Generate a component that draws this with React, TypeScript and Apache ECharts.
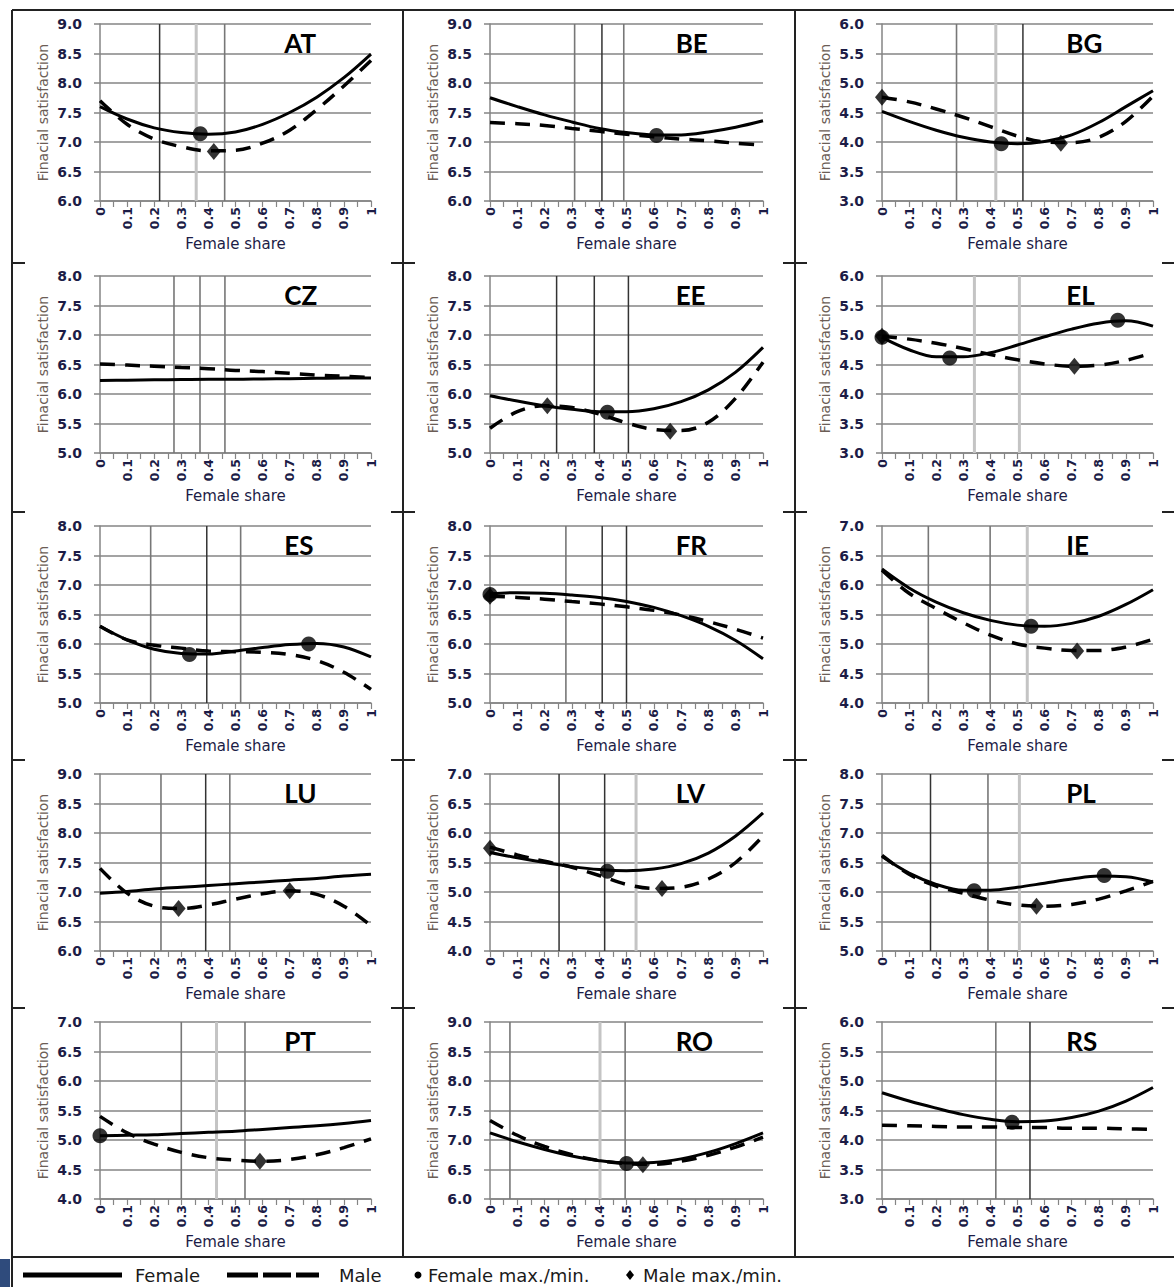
import React, { useEffect, useRef } from "react";
import * as echarts from "echarts";

// ---------------- DATA ----------------
const countries = ["AT", "BE", "BG", "CZ", "EE", "EL", "ES", "FR", "IE", "LU", "LV", "PL", "PT", "RO", "RS"];
const shares = [0, 0.1, 0.2, 0.3, 0.4, 0.5, 0.6, 0.7, 0.8, 0.9, 1];
const xTickLabels = ["0", "0.1", "0.2", "0.3", "0.4", "0.5", "0.6", "0.7", "0.8", "0.9", "1"];
const yMins = [6, 6, 3, 5, 5, 3, 5, 5, 4, 6, 4, 5, 4, 6, 3];
const yMaxs = [9, 9, 6, 8, 8, 6, 8, 8, 7, 9, 7, 8, 7, 9, 6];

const femaleAT = [7.6, 7.39, 7.24, 7.16, 7.13, 7.17, 7.3, 7.5, 7.76, 8.09, 8.49];
const femaleBE = [7.75, 7.6, 7.46, 7.34, 7.23, 7.16, 7.12, 7.12, 7.17, 7.25, 7.36];
const femaleBG = [4.52, 4.35, 4.2, 4.08, 4.0, 3.97, 4.01, 4.12, 4.33, 4.6, 4.87];
const femaleCZ = [6.23, 6.235, 6.24, 6.245, 6.25, 6.25, 6.255, 6.26, 6.265, 6.27, 6.27];
const femaleEE = [5.97, 5.88, 5.8, 5.74, 5.7, 5.7, 5.75, 5.87, 6.07, 6.37, 6.79];
const femaleEL = [4.96, 4.75, 4.63, 4.63, 4.7, 4.83, 4.97, 5.1, 5.2, 5.24, 5.15];
const femaleES = [6.3, 6.07, 5.91, 5.84, 5.83, 5.88, 5.94, 5.99, 6.01, 5.95, 5.78];
const femaleFR = [6.85, 6.87, 6.86, 6.83, 6.79, 6.72, 6.62, 6.48, 6.3, 6.06, 5.75];
const femaleIE = [6.27, 5.95, 5.71, 5.53, 5.4, 5.32, 5.3, 5.35, 5.47, 5.67, 5.92];
const femaleLU = [6.98, 7.01, 7.05, 7.08, 7.11, 7.14, 7.17, 7.2, 7.23, 7.27, 7.3];
const femaleLV = [5.67, 5.58, 5.5, 5.43, 5.38, 5.36, 5.39, 5.48, 5.66, 5.95, 6.34];
const femalePL = [6.6, 6.32, 6.13, 6.03, 6.03, 6.08, 6.15, 6.22, 6.27, 6.26, 6.17];
const femalePT = [5.07, 5.08, 5.09, 5.11, 5.13, 5.15, 5.18, 5.21, 5.24, 5.28, 5.33];
const femaleRO = [7.12, 6.97, 6.84, 6.73, 6.65, 6.61, 6.62, 6.68, 6.79, 6.94, 7.12];
const femaleRS = [4.8, 4.66, 4.54, 4.43, 4.35, 4.31, 4.32, 4.38, 4.49, 4.66, 4.89];

const maleAT = [7.7, 7.3, 7.05, 6.92, 6.85, 6.86, 6.98, 7.2, 7.55, 7.95, 8.38];
const maleBE = [7.33, 7.31, 7.28, 7.23, 7.18, 7.13, 7.09, 7.05, 7.02, 6.98, 6.95];
const maleBG = [4.76, 4.68, 4.56, 4.42, 4.26, 4.1, 4.0, 3.99, 4.08, 4.35, 4.78];
const maleCZ = [6.51, 6.49, 6.47, 6.45, 6.43, 6.4, 6.38, 6.35, 6.32, 6.3, 6.28];
const maleEE = [5.42, 5.7, 5.8, 5.77, 5.66, 5.51, 5.4, 5.38, 5.52, 5.93, 6.54];
const maleEL = [4.98, 4.93, 4.86, 4.77, 4.67, 4.58, 4.51, 4.47, 4.49, 4.57, 4.7];
const maleES = [6.3, 6.07, 5.98, 5.93, 5.88, 5.87, 5.86, 5.82, 5.72, 5.52, 5.23];
const maleFR = [6.81, 6.79, 6.76, 6.72, 6.68, 6.63, 6.57, 6.49, 6.38, 6.25, 6.1];
const maleIE = [6.25, 5.86, 5.6, 5.36, 5.15, 5.0, 4.93, 4.89, 4.89, 4.95, 5.08];
const maleLU = [7.4, 6.98, 6.76, 6.72, 6.78, 6.88, 6.97, 7.02, 6.96, 6.76, 6.43];
const maleLV = [5.76, 5.63, 5.52, 5.42, 5.28, 5.13, 5.06, 5.08, 5.22, 5.5, 5.95];
const malePL = [6.62, 6.3, 6.1, 5.98, 5.86, 5.78, 5.76, 5.79, 5.88, 6.02, 6.18];
const malePT = [5.4, 5.12, 4.93, 4.79, 4.7, 4.66, 4.64, 4.67, 4.75, 4.87, 5.02];
const maleRO = [7.33, 7.08, 6.89, 6.75, 6.65, 6.6, 6.59, 6.64, 6.74, 6.88, 7.05];
const maleRS = [4.25, 4.24, 4.23, 4.22, 4.22, 4.21, 4.21, 4.2, 4.2, 4.19, 4.18];

const femaleSeries = [femaleAT, femaleBE, femaleBG, femaleCZ, femaleEE, femaleEL, femaleES, femaleFR, femaleIE, femaleLU, femaleLV, femalePL, femalePT, femaleRO, femaleRS];
const maleSeries = [maleAT, maleBE, maleBG, maleCZ, maleEE, maleEL, maleES, maleFR, maleIE, maleLU, maleLV, malePL, malePT, maleRO, maleRS];

// female max./min. points [share, value]
const femaleExtrema = [
  [[0.37, 7.14]], [[0.61, 7.11]], [[0.44, 3.97]], [], [[0.43, 5.69]],
  [[0, 4.96], [0.25, 4.61], [0.87, 5.25]], [[0.33, 5.82], [0.77, 6.0]], [[0, 6.84]], [[0.55, 5.3]],
  [], [[0.43, 5.35]], [[0.34, 6.02], [0.82, 6.28]], [[0, 5.07]], [[0.5, 6.6]], [[0.48, 4.3]],
];
// male max./min. points [share, value]
const maleExtrema = [
  [[0.42, 6.84]], [], [[0, 4.76], [0.66, 3.98]], [], [[0.21, 5.8], [0.66, 5.37]],
  [[0, 4.98], [0.71, 4.47]], [], [[0, 6.81]], [[0.72, 4.88]],
  [[0.29, 6.72], [0.7, 7.02]], [[0, 5.74], [0.63, 5.06]], [[0.57, 5.76]], [[0.59, 4.64]], [[0.56, 6.58]], [],
];
// vertical reference lines (female share positions)
const refLineX = [
  [0.22, 0.355, 0.46], [0.31, 0.41, 0.49], [0.275, 0.42, 0.52], [0.273, 0.369, 0.461], [0.244, 0.382, 0.507],
  [0.341, 0.507], [0.187, 0.394, 0.519], [0.278, 0.411, 0.5], [0.171, 0.399, 0.536],
  [0.225, 0.39, 0.479], [0.253, 0.42, 0.535], [0.179, 0.391, 0.507], [0.3, 0.43, 0.535], [0.073, 0.403, 0.495], [0.42, 0.546],
];
const refLineShade = [
  ["dark", "light", "mid"], ["mid", "dark", "mid"], ["mid", "light", "dark"], ["mid", "mid", "mid"], ["dark", "dark", "dark"],
  ["light", "light"], ["mid", "dark", "mid"], ["mid", "dark", "dark"], ["mid", "mid", "light"],
  ["mid", "dark", "mid"], ["dark", "dark", "light"], ["dark", "mid", "light"], ["mid", "light", "mid"], ["mid", "light", "mid"], ["mid", "dark"],
];
const yAxisTitle = "Finacial satisfaction";
const xAxisTitle = "Female share";
const legendLabels = ["Female", "Male", "Female max./min.", "Male max./min."];

// ---------------- LAYOUT / STYLE ----------------
const W = 1174;
const H = 1287;
const colX0 = [100, 490, 882];
const colW = [271, 273, 271];
const rowTop = [24, 276, 526, 774, 1022];
const plotH = 177;
const gridGrey = "#858585";
const navy = "#1c1c46";
const shadeStyle: Record<string, { color: string; width: number }> = {
  dark: { color: "#333333", width: 1.5 },
  mid: { color: "#777777", width: 1.6 },
  light: { color: "#c4c4c4", width: 3 },
};

export default function App() {
  const ref = useRef<HTMLDivElement>(null);
  useEffect(() => {
    if (!ref.current) return;
    document.body.style.margin = "0";
    const chart = echarts.init(ref.current, null, { renderer: "svg" });

    const grids: any[] = [];
    const xAxes: any[] = [];
    const yAxes: any[] = [];
    const series: any[] = [];
    const graphics: any[] = [];

    countries.forEach((c, i) => {
      const r = Math.floor(i / 3);
      const col = i % 3;
      grids.push({ left: colX0[col], top: rowTop[r], width: colW[col], height: plotH, containLabel: false });
      xAxes.push({
        gridIndex: i,
        type: "value",
        min: 0,
        max: 1,
        interval: 0.1,
        axisLine: { show: true, onZero: false, lineStyle: { color: gridGrey, width: 1.5 } },
        axisTick: { show: true, length: 6, lineStyle: { color: gridGrey, width: 1.2 } },
        minorTick: { show: true, splitNumber: 2, length: 6, lineStyle: { color: gridGrey, width: 1.2 } },
        splitLine: { show: false },
        axisLabel: {
          rotate: 90,
          margin: 6,
          fontFamily: "DejaVu Sans",
          fontWeight: "bold",
          fontSize: 12.5,
          color: navy,
          formatter: (v: number) => xTickLabels[Math.round(v * 10)],
        },
        name: xAxisTitle,
        nameLocation: "middle",
        nameGap: 35,
        nameTextStyle: { fontFamily: "DejaVu Sans", fontSize: 15, color: navy },
      });
      yAxes.push({
        gridIndex: i,
        type: "value",
        min: yMins[i],
        max: yMaxs[i],
        interval: 0.5,
        axisLine: { show: true, lineStyle: { color: gridGrey, width: 1.5 } },
        axisTick: { show: true, length: 6, lineStyle: { color: gridGrey, width: 1.5 } },
        splitLine: { show: true, lineStyle: { color: gridGrey, width: 1.5 } },
        axisLabel: {
          margin: 18,
          fontFamily: "DejaVu Sans",
          fontWeight: "bold",
          fontSize: 14,
          color: navy,
          formatter: (v: number) => v.toFixed(1),
        },
        name: yAxisTitle,
        nameLocation: "middle",
        nameGap: 50,
        nameTextStyle: { fontFamily: "DejaVu Sans", fontSize: 14, color: "#6b5d55" },
      });

      refLineX[i].forEach((x, k) => {
        const st = shadeStyle[refLineShade[i][k]];
        series.push({
          type: "line",
          xAxisIndex: i,
          yAxisIndex: i,
          data: [[x, yMins[i]], [x, yMaxs[i]]],
          symbol: "none",
          silent: true,
          z: 1,
          lineStyle: { color: st.color, width: st.width },
        });
      });
      series.push({
        type: "line",
        name: legendLabels[0],
        xAxisIndex: i,
        yAxisIndex: i,
        smooth: 0.35,
        symbol: "none",
        z: 3,
        data: shares.map((s, j) => [s, femaleSeries[i][j]]),
        lineStyle: { color: "#000", width: 3 },
      });
      series.push({
        type: "line",
        name: legendLabels[1],
        xAxisIndex: i,
        yAxisIndex: i,
        smooth: 0.35,
        symbol: "none",
        z: 3,
        data: shares.map((s, j) => [s, maleSeries[i][j]]),
        lineStyle: { color: "#000", width: 3.5, type: [15, 10] },
      });
      if (femaleExtrema[i].length)
        series.push({
          type: "scatter",
          xAxisIndex: i,
          yAxisIndex: i,
          symbol: "circle",
          symbolSize: 15,
          z: 5,
          itemStyle: { color: "#000" },
          data: femaleExtrema[i],
        });
      if (maleExtrema[i].length)
        series.push({
          type: "scatter",
          xAxisIndex: i,
          yAxisIndex: i,
          symbol: "diamond",
          symbolSize: [14, 17],
          z: 5,
          itemStyle: { color: "#000" },
          data: maleExtrema[i],
        });

      graphics.push({
        type: "text",
        x: colX0[col] + 0.68 * colW[col],
        y: rowTop[r] + 19,
        z: 10,
        style: {
          text: c,
          fill: "#000",
          font: "bold 26px Lato",
          verticalAlign: "middle",
          textVerticalAlign: "middle",
        },
      });
    });

    // frame lines
    const frame = (x1: number, y1: number, x2: number, y2: number, w = 2) =>
      graphics.push({ type: "line", shape: { x1, y1, x2, y2 }, style: { stroke: "#222", lineWidth: w }, z: 20 });
    frame(12, 10, W, 10);
    frame(12, 10, 12, H);
    frame(403, 10, 403, 1257);
    frame(795, 10, 795, 1257);
    frame(12, 1257, W, 1257);
    [263, 512, 760, 1008].forEach((y) => {
      frame(12, y, 25, y);
      frame(391, y, 415, y);
      frame(783, y, 807, y);
      frame(1162, y, W, y);
    });
    graphics.push({ type: "rect", shape: { x: 0, y: 1259, width: 10, height: 28 }, style: { fill: "#2f4b7c" }, z: 20 });

    // legend
    const ly = 1275;
    const legendFont = "18px 'DejaVu Sans'";
    graphics.push({ type: "line", shape: { x1: 23, y1: ly, x2: 122, y2: ly }, style: { stroke: "#000", lineWidth: 5 }, z: 20 });
    [[227, 258], [263, 291], [296, 319]].forEach(([a, b]) =>
      graphics.push({ type: "line", shape: { x1: a, y1: ly, x2: b, y2: ly }, style: { stroke: "#000", lineWidth: 5 }, z: 20 })
    );
    graphics.push({ type: "circle", shape: { cx: 418, cy: ly, r: 3.5 }, style: { fill: "#000" }, z: 20 });
    graphics.push({
      type: "polygon",
      shape: { points: [[630, ly - 5], [634, ly], [630, ly + 5], [626, ly]] },
      style: { fill: "#000" },
      z: 20,
    });
    const legendTextX = [135, 339, 428, 643];
    legendLabels.forEach((t, k) =>
      graphics.push({
        type: "text",
        x: legendTextX[k],
        y: ly,
        z: 20,
        style: { text: t, font: legendFont, fill: "#1a1a1a", verticalAlign: "middle", textVerticalAlign: "middle" },
      })
    );

    chart.setOption({
      animation: false,
      backgroundColor: "#fff",
      grid: grids,
      xAxis: xAxes,
      yAxis: yAxes,
      series,
      graphic: graphics,
    });
    return () => chart.dispose();
  }, []);

  return <div ref={ref} style={{ position: "absolute", left: 0, top: 0, width: W, height: H, background: "#fff" }} />;
}
